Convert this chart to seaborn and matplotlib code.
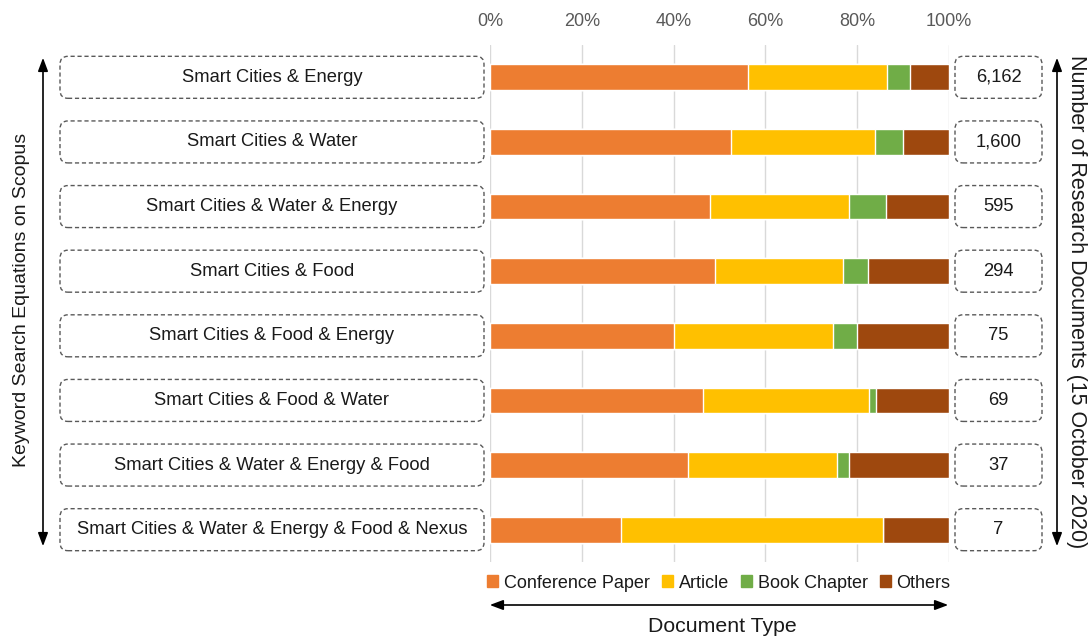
import numpy as np
import pandas as pd
import seaborn as sns
import matplotlib.pyplot as plt
from matplotlib.patches import FancyBboxPatch, FancyArrowPatch, Patch

# keyword search equations (top to bottom) and document counts
equations = [
    "Smart Cities & Energy",
    "Smart Cities & Water",
    "Smart Cities & Water & Energy",
    "Smart Cities & Food",
    "Smart Cities & Food & Energy",
    "Smart Cities & Food & Water",
    "Smart Cities & Water & Energy & Food",
    "Smart Cities & Water & Energy & Food & Nexus",
]
n_docs = ["6,162", "1,600", "595", "294", "75", "69", "37", "7"]

# share of each document type (%)
conference = [56.2, 52.4, 47.9, 49.0, 40.0, 46.4, 43.2, 28.6]
article = [30.3, 31.5, 30.4, 27.9, 34.7, 36.2, 32.4, 57.1]
book_chapter = [5.0, 6.1, 7.9, 5.4, 5.3, 1.4, 2.7, 0.0]
others = [8.5, 10.0, 13.8, 17.7, 20.0, 16.0, 21.7, 14.3]

doc_types = ["Conference Paper", "Article", "Book Chapter", "Others"]
colors = ["#ED7D31", "#FFC000", "#70AD47", "#9E480E"]

sns.set_style("white")
plt.rcParams['font.family'] = ['Liberation Sans', 'DejaVu Sans']

df = pd.DataFrame({
    "equation": equations,
    "Conference Paper": conference,
    "Article": article,
    "Book Chapter": book_chapter,
    "Others": others,
})
cum = df[doc_types].cumsum(axis=1)
cum["equation"] = equations

W, H, DPI = 10.89, 6.39, 100
fig = plt.figure(figsize=(W, H), dpi=DPI)
ax = fig.add_axes([490 / 1089, 1 - 562 / 639, 459 / 1089, (562 - 45) / 639])

# stacked bars: draw cumulative totals from the widest to the narrowest
for dt, col in reversed(list(zip(doc_types, colors))):
    sns.barplot(data=cum, x=dt, y="equation", orient="h", color=col,
                saturation=1, width=0.4, ax=ax, zorder=3)

ax.set_xlim(0, 100)
ax.set_ylim(len(equations) - 0.5, -0.5)
ax.set_xticks(np.arange(0, 101, 20))
ax.set_xticklabels([f"{t}%" for t in range(0, 101, 20)])
ax.xaxis.tick_top()
ax.tick_params(axis="x", length=0, labelsize=13, labelcolor="#595959", pad=11)
ax.set_yticks([])
ax.set_xlabel("")
ax.set_ylabel("")
ax.grid(axis="x", color="#d9d9d9", lw=1, zorder=0)
ax.set_axisbelow(True)
for s in ax.spines.values():
    s.set_visible(False)

# dashed rounded boxes with labels and counts
tr = fig.dpi_scale_trans
for i, (eq, n) in enumerate(zip(equations, n_docs)):
    yc = ax.transData.transform((0, i))[1] / DPI
    bh = 0.42
    for x0, x1, txt in [(0.60, 4.84, eq), (9.55, 10.42, n)]:
        box = FancyBboxPatch((x0, yc - bh / 2), x1 - x0, bh,
                             boxstyle="round,pad=0,rounding_size=0.08",
                             transform=tr, fill=False, ec="#595959",
                             lw=1, ls=(0, (3, 2)))
        fig.add_artist(box)
        fig.text((x0 + x1) / 2 / W, yc / H, txt, ha="center", va="center",
                 fontsize=13.2, color="#1a1a1a")

# double-headed arrows
def arrow(p0, p1):
    a = FancyArrowPatch(p0, p1, arrowstyle="<|-|>,head_length=0.8,head_width=0.3",
                        mutation_scale=10, lw=1.2, color="black", transform=tr)
    fig.add_artist(a)

top_in = (639 - 55) / DPI
bot_in = (639 - 549) / DPI
arrow((0.43, top_in), (0.43, bot_in))
arrow((10.57, top_in), (10.57, bot_in))
arrow((4.87, (639 - 605) / DPI), (9.51, (639 - 605) / DPI))

fig.text(22 / 1089, 1 - 300 / 639, "Keyword Search Equations on Scopus",
         rotation=90, ha="center", va="center", fontsize=14, color="#1a1a1a")
fig.text(1077 / 1089, 1 - 302 / 639, "Number of Research Documents (15 October 2020)",
         rotation=270, ha="center", va="center", fontsize=15.5, color="#1a1a1a")
fig.text(722 / 1089, 1 - 626 / 639, "Document Type", ha="center", va="center",
         fontsize=15.3, color="#1a1a1a")

handles = [Patch(color=c, label=l) for l, c in zip(doc_types, colors)]
fig.legend(handles=handles, loc="center", bbox_to_anchor=(719 / 1089, 1 - 583 / 639),
           ncol=4, frameon=False, fontsize=13, handlelength=0.6, handleheight=0.6,
           handletextpad=0.3, columnspacing=0.7, labelcolor="#1a1a1a")

fig.savefig("out.png", dpi=DPI)
